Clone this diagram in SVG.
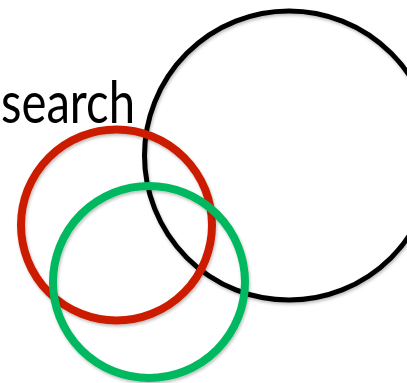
<svg xmlns="http://www.w3.org/2000/svg" width="407" height="383" viewBox="0 0 407 383">
<defs>
<filter id="sh" x="-10%" y="-10%" width="120%" height="120%">
<feDropShadow dx="1" dy="2" stdDeviation="1.5" flood-color="#000" flood-opacity="0.25"/>
</filter>
<style>
.ring{fill:none;filter:url(#sh)}
.lbl{font-family:Lato,"Open Sans",sans-serif;font-size:58px;fill:#000}
</style>
</defs>
<rect width="407" height="383" fill="#fff"/>
<g id="label"><text class="lbl" x="1" y="123" textLength="134" lengthAdjust="spacingAndGlyphs">search</text></g>
<g id="black-circle"><circle class="ring" cx="289" cy="155.5" r="144.5" stroke="#000" stroke-width="5"/></g>
<g id="red-circle"><circle class="ring" cx="116.5" cy="225" r="95.5" stroke="#cc1f00" stroke-width="8"/></g>
<g id="green-circle"><circle class="ring" cx="149" cy="282" r="96" stroke="#00b860" stroke-width="8"/></g>
<g id="connectors"/>
</svg>
